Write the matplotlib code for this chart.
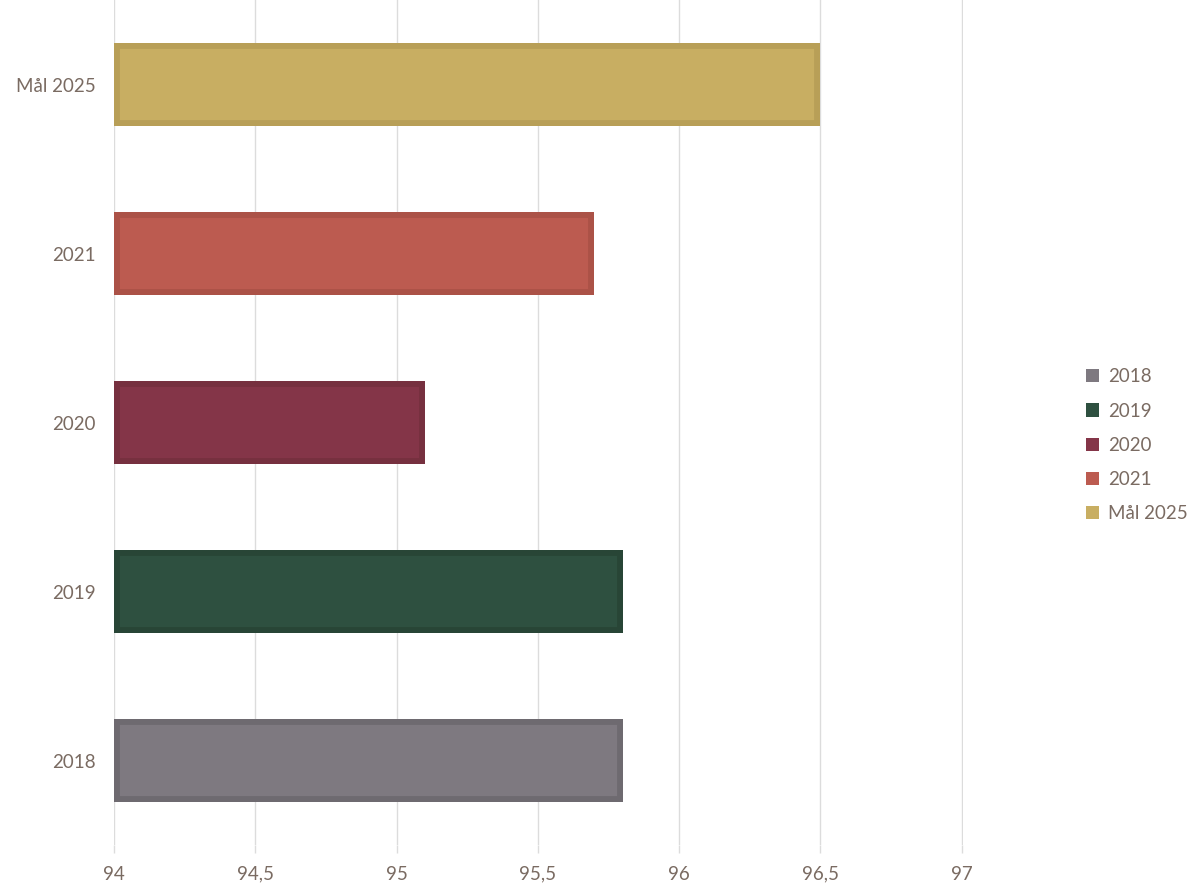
import matplotlib.pyplot as plt

categories = ["2018", "2019", "2020", "2021", "Mål 2025"]
values = [95.8, 95.8, 95.1, 95.7, 96.5]
fills = ["#7e7980", "#2e5040", "#843548", "#bc5b50", "#c8ae62"]
edges = ["#6e6a70", "#284536", "#76303f", "#ab5247", "#b89f57"]
xticks = [94, 94.5, 95, 95.5, 96, 96.5, 97]
xtick_labels = ["94", "94,5", "95", "95,5", "96", "96,5", "97"]

text_color = "#7a6b62"
grid_color = "#dcdcdc"

plt.rcParams["font.family"] = ["Lato", "DejaVu Sans"]

fig = plt.figure(figsize=(12, 8.88), dpi=100)
ax = fig.add_axes([0.095, 0.0484, 0.7072, 0.9516])

for i, (cat, val) in enumerate(zip(categories, values)):
    bars = ax.barh(i, val - 94, left=94, height=0.49, color=fills[i],
                   edgecolor=edges[i], linewidth=8.5, label=cat, zorder=3)
    for b in bars:
        b.set_clip_path(b)

ax.set_xlim(94, 97.003)
ax.set_ylim(-0.5, 4.5)
ax.set_xticks(xticks)
ax.set_xticklabels(xtick_labels)
ax.set_yticks(range(len(categories)))
ax.set_yticklabels(categories)
ax.grid(axis="x", color=grid_color, linewidth=1.0, zorder=0)
for s in ax.spines.values():
    s.set_visible(False)
ax.tick_params(axis="x", length=6, color=grid_color, width=1.0,
               labelsize=13.5, labelcolor=text_color, pad=9)
ax.tick_params(axis="y", length=0, labelsize=13.5, labelcolor=text_color, pad=13)

leg = fig.legend(loc="center left", bbox_to_anchor=(0.891, 0.4985), frameon=False,
                 fontsize=13.5, labelcolor=text_color, handlelength=0.7,
                 handleheight=0.7, handletextpad=0.45, labelspacing=0.92)
for h in leg.legend_handles:
    h.set_linewidth(0)

fig.savefig("out.png", dpi=100)
